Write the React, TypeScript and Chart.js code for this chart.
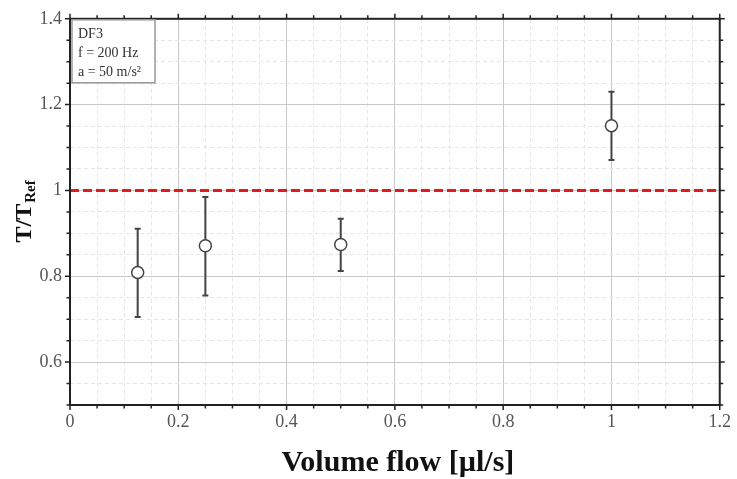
import React, { useEffect, useRef } from "react";
import { Chart, registerables } from "chart.js";

Chart.register(...registerables);

const flows = [0.125, 0.25, 0.5, 1.0];
const ratios = [0.809, 0.871, 0.874, 1.151];
const errLow = [0.705, 0.755, 0.812, 1.071];
const errHigh = [0.911, 0.985, 0.934, 1.23];
const refLineX = [0, 1.2];
const refLineY = [1, 1];
const infoLines = ["DF3", "f = 200 Hz", "a = 50 m/s\u00b2"];
const xTitle = "Volume flow [\u00b5l/s]";
const yTitleMain = "T/T";
const yTitleSub = "Ref";

const SERIF = "'Liberation Serif', 'Times New Roman', serif";

const isMajor = (v: number) => Math.round(v * 100) % 20 === 0;
const fmt = (v: number) => String(Math.round(v * 10) / 10);

const decorPlugin = {
  id: "decor",
  beforeDatasetsDraw(chart: any) {
    const { ctx, scales } = chart;
    const xs = scales.x;
    const ys = scales.y;
    ctx.save();
    ctx.strokeStyle = "#444";
    ctx.lineWidth = 2;
    for (let i = 0; i < flows.length; i++) {
      const px = xs.getPixelForValue(flows[i]);
      const pLo = ys.getPixelForValue(errLow[i]);
      const pHi = ys.getPixelForValue(errHigh[i]);
      ctx.beginPath();
      ctx.moveTo(px, pLo);
      ctx.lineTo(px, pHi);
      ctx.moveTo(px - 3, pLo);
      ctx.lineTo(px + 3, pLo);
      ctx.moveTo(px - 3, pHi);
      ctx.lineTo(px + 3, pHi);
      ctx.stroke();
    }
    ctx.restore();
  },
  afterDraw(chart: any) {
    const { ctx, chartArea: a, scales } = chart;
    const xs = scales.x;
    const ys = scales.y;
    ctx.save();
    // frame
    ctx.strokeStyle = "#222";
    ctx.lineWidth = 2;
    ctx.strokeRect(a.left, a.top, a.right - a.left, a.bottom - a.top);
    // ticks
    ctx.lineWidth = 1.5;
    ctx.beginPath();
    xs.ticks.forEach((t: any) => {
      const px = xs.getPixelForValue(t.value);
      const len = isMajor(t.value) ? 5 : 3.5;
      ctx.moveTo(px, a.bottom);
      ctx.lineTo(px, a.bottom + len);
      ctx.moveTo(px, a.top);
      ctx.lineTo(px, a.top - len);
    });
    ys.ticks.forEach((t: any) => {
      const py = ys.getPixelForValue(t.value);
      const len = isMajor(t.value) ? 5 : 3.5;
      ctx.moveTo(a.left, py);
      ctx.lineTo(a.left - len, py);
      ctx.moveTo(a.right, py);
      ctx.lineTo(a.right + len, py);
    });
    ctx.stroke();

    // info box
    const bx = a.left + 2;
    const by = a.top + 1;
    ctx.fillStyle = "#fff";
    ctx.fillRect(bx, by, 83, 63);
    ctx.strokeStyle = "#999";
    ctx.lineWidth = 1.5;
    ctx.strokeRect(bx, by, 83, 63);
    ctx.fillStyle = "#333";
    ctx.font = `14px ${SERIF}`;
    ctx.textBaseline = "alphabetic";
    ctx.textAlign = "left";
    infoLines.forEach((line, i) => {
      ctx.fillText(line, bx + 6, by + 18 + i * 19);
    });

    // y title
    ctx.save();
    ctx.translate(31, (a.top + a.bottom) / 2);
    ctx.rotate(-Math.PI / 2);
    ctx.fillStyle = "#111";
    ctx.font = `bold 24px ${SERIF}`;
    const w1 = ctx.measureText(yTitleMain).width;
    ctx.font = `bold 15px ${SERIF}`;
    const w2 = ctx.measureText(yTitleSub).width;
    const start = -(w1 + w2) / 2;
    ctx.font = `bold 24px ${SERIF}`;
    ctx.fillText(yTitleMain, start, 0);
    ctx.font = `bold 15px ${SERIF}`;
    ctx.fillText(yTitleSub, start + w1 + 1, 4);
    ctx.restore();

    // x title
    ctx.fillStyle = "#111";
    ctx.font = `bold 30px ${SERIF}`;
    ctx.textAlign = "center";
    ctx.textBaseline = "alphabetic";
    ctx.fillText(xTitle, (a.left + a.right) / 2 + 3, 471);
    ctx.restore();
  },
};

export default function App() {
  const ref = useRef<HTMLCanvasElement>(null);
  useEffect(() => {
    if (!ref.current) return;
    const gridColor = (c: any) =>
      c.tick && isMajor(c.tick.value) ? "#c9c9c9" : "#e6e6e6";
    const gridDash = (c: any) =>
      c.tick && !isMajor(c.tick.value) ? [4, 3] : [];
    const chart = new Chart(ref.current, {
      type: "scatter",
      data: {
        datasets: [
          {
            type: "line",
            data: refLineX.map((x, i) => ({ x, y: refLineY[i] })),
            borderColor: "#e41a1c",
            borderWidth: 3,
            borderDash: [9, 4],
            pointRadius: 0,
            fill: false,
          } as any,
          {
            data: flows.map((x, i) => ({ x, y: ratios[i] })),
            backgroundColor: "#fff",
            borderColor: "#444",
            borderWidth: 1.5,
            pointRadius: 6,
            pointHoverRadius: 6,
          },
        ],
      },
      options: {
        animation: false,
        responsive: true,
        maintainAspectRatio: false,
        events: [],
        layout: { padding: { left: 0, right: 11, top: 13, bottom: 0 } },
        plugins: { legend: { display: false }, tooltip: { enabled: false } },
        scales: {
          x: {
            type: "linear",
            min: 0,
            max: 1.2,
            afterFit: (s: any) => {
              s.height = 74;
            },
            grid: { color: gridColor, lineWidth: 1, drawTicks: false },
            border: { display: false, dash: gridDash } as any,
            ticks: {
              stepSize: 0.05,
              autoSkip: false,
              maxRotation: 0,
              padding: 6,
              color: "#555",
              font: { family: SERIF, size: 18 },
              callback: (v: any) => (isMajor(Number(v)) ? fmt(Number(v)) : ""),
            },
          },
          y: {
            type: "linear",
            min: 0.5,
            max: 1.4,
            afterFit: (s: any) => {
              s.width = 70;
            },
            grid: { color: gridColor, lineWidth: 1, drawTicks: false },
            border: { display: false, dash: gridDash } as any,
            ticks: {
              stepSize: 0.05,
              autoSkip: false,
              padding: 8,
              color: "#555",
              font: { family: SERIF, size: 18 },
              callback: (v: any) => (isMajor(Number(v)) ? fmt(Number(v)) : ""),
            },
          },
        },
      },
      plugins: [decorPlugin],
    });
    return () => chart.destroy();
  }, []);
  return (
    <div style={{ position: "absolute", left: 0, top: 0, width: 737, height: 479, background: "#fff" }}>
      <canvas ref={ref} />
    </div>
  );
}
